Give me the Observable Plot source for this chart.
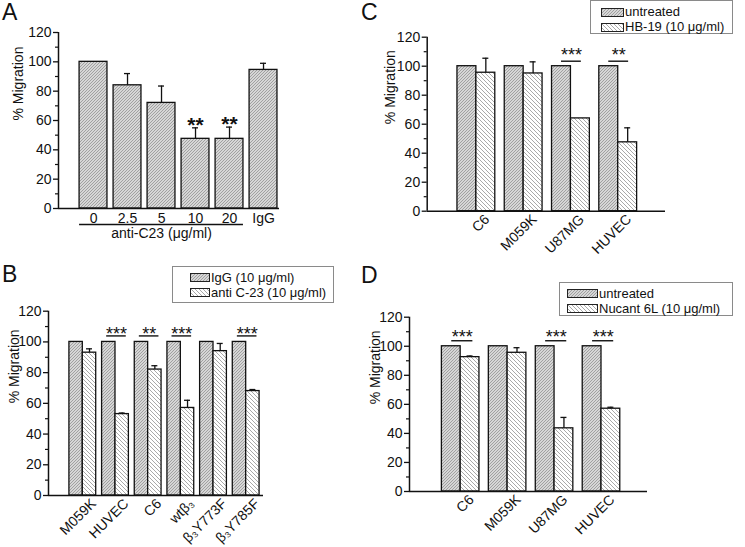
<!DOCTYPE html>
<html><head><meta charset="utf-8">
<script src="https://cdn.jsdelivr.net/npm/d3@7"></script>
<script src="https://cdn.jsdelivr.net/npm/@observablehq/plot@0.6"></script>
<style>
body{margin:0;background:#fff;font-family:"Liberation Sans",Arial,sans-serif;color:#111;}
#fig{position:relative;width:745px;height:547px;overflow:hidden;background:#fff;}
.pl{position:absolute;}
.letter{position:absolute;font-size:23px;line-height:1;}
.legend{position:absolute;border:1px solid #8a8a8a;background:#fff;font-size:13px;box-sizing:border-box;}
.legend .row{position:absolute;display:flex;align-items:center;white-space:nowrap;height:12px;line-height:12px;}
.legend svg{display:block;margin-right:1px;}
</style></head><body>
<svg width="0" height="0" style="position:absolute"><defs>
<pattern id="pGray" patternUnits="userSpaceOnUse" width="3" height="3"><rect width="3" height="3" fill="#d6d6d6"/><path d="M-1,1 L1,-1 M0,3 L3,0 M2,4 L4,2" stroke="#888" stroke-width="0.7"/></pattern>
<pattern id="pHatch" patternUnits="userSpaceOnUse" width="4" height="4"><rect width="4" height="4" fill="#fff"/><path d="M-1,-1 L5,5 M-1,3 L1,5 M3,-1 L5,1" stroke="#999" stroke-width="0.85"/></pattern>
</defs></svg>
<div id="fig"></div>
<script>
// ---------- data ----------
const catsA = ["0","2.5","5","10","20","IgG"];
const valA = [100,84,72,47.5,47.5,94.5];
const errA = [0,8,11.5,7.5,8,4.5];
const sigA = ["","","","**","**",""];
const groupLabelA = "anti-C23 (μg/ml)";

const groupsB = ["M059K","HUVEC","C6","wtβ₃","β₃Y773F","β₃Y785F"];
const iggB = [100,100,100,100,100,100];
const antiB = [93,53,82,57,94,68];
const antiErrB = [2.5,0.7,2.5,5,5,1];
const sigB = ["","***","**","***","","***"];
const legendB = ["IgG (10 μg/ml)","anti C-23 (10 μg/ml)"];

const groupsC = ["C6","M059K","U87MG","HUVEC"];
const untreatedC = [100,100,100,100];
const hbC = [95.5,95,64,47.5];
const hbErrC = [10,8,0,10];
const sigC = ["","","***","**"];
const legendC = ["untreated","HB-19 (10 μg/ml)"];

const groupsD = ["C6","M059K","U87MG","HUVEC"];
const untreatedD = [100,100,100,100];
const nucD = [92.5,95.5,43.5,57];
const nucErrD = [0.8,3.5,7.5,1];
const sigD = ["***","","***","***"];
const legendD = ["untreated","Nucant 6L (10 μg/ml)"];

const yTicks = [0,20,40,60,80,100,120];
const yMinor = [10,30,50,70,90,110];
const yLabel = "% Migration";

const FILL_A = "url(#pGray)", FILL_B = "url(#pHatch)";
const fig = document.getElementById("fig");

function makePanel(cfg) {
  const {groups, series, bw, xdom, left, top, w, h, ml, mr, mt, mb, ylabDx} = cfg;
  const nS = series.length;
  const step = (w - ml - mr) / (xdom[1] - xdom[0]);
  const cap = 3/step;
  const marks = [];
  series.forEach((s, k) => {
    const rows = groups.map((g, i) => {
      const x1 = nS === 1 ? i - bw/2 : i - bw + k*bw;
      return {x1, x2: x1 + bw, v: s.values[i], err: s.err ? s.err[i] : 0, xm: x1 + bw/2};
    });
    marks.push(Plot.rect(rows, {x1: "x1", x2: "x2", y1: () => 0, y2: "v", fill: s.fill, stroke: "#111", strokeWidth: 1.3}));
    const eb = rows.filter(r => r.err > 0).map(r => ({...r, t: r.v + r.err}));
    marks.push(Plot.ruleX(eb, {x: "xm", y1: "v", y2: "t", stroke: "#111", strokeWidth: 1.3}));
    marks.push(Plot.ruleY(eb, {x1: r => r.xm - cap, x2: r => r.xm + cap, y: "t", stroke: "#111", strokeWidth: 1.3}));
    if (cfg.starsOnErr) {
      const st = rows.map((r, i) => ({...r, t: r.v + r.err, s: cfg.sig[i]})).filter(r => r.s);
      marks.push(Plot.text(st, {x: "xm", y: "t", text: "s", dy: -3, fontSize: 21, fontWeight: "bold"}));
    }
  });
  if (!cfg.starsOnErr) {
    const sr = groups.map((g, i) => ({x1: i - cfg.sigL, x2: i + cfg.sigR, s: cfg.sig[i]})).filter(r => r.s);
    marks.push(Plot.ruleY(sr, {x1: "x1", x2: "x2", y: () => 100, dy: cfg.lineDy, stroke: "#111", strokeWidth: 1.4}));
    marks.push(Plot.text(sr, {x: r => (r.x1 + r.x2)/2, y: () => 100, text: "s", dy: cfg.starDy, fontSize: 18}));
  }
  // axes
  marks.push(Plot.ruleY([0], {stroke: "#111", strokeWidth: 1.5}));
  marks.push(Plot.ruleX([xdom[0]], {stroke: "#111", strokeWidth: 1.5}));
  marks.push(Plot.axisY({ticks: yTicks, tickSize: 5, tickPadding: 2, label: null, fontSize: 14, strokeWidth: 1.3}));
  marks.push(Plot.axisY({ticks: yMinor, tickSize: 3, tickFormat: () => "", label: null, strokeWidth: 1.2}));
  marks.push(Plot.text([yLabel], {frameAnchor: "left", rotate: -90, dx: ylabDx, fontSize: 14}));
  if (cfg.rotated) {
    marks.push(Plot.text(groups, {x: (d, i) => i, frameAnchor: "bottom", rotate: -45, textAnchor: "end", dx: 14, dy: 9, fontSize: 14}));
  } else {
    marks.push(Plot.text(groups, {x: (d, i) => i, frameAnchor: "bottom", lineAnchor: "top", dy: 5, fontSize: 14}));
  }
  if (cfg.extra) marks.push(...cfg.extra(bw));
  const svg = Plot.plot({
    width: w, height: h, marginLeft: ml, marginRight: mr, marginTop: mt, marginBottom: mb,
    x: {type: "linear", domain: xdom, axis: null},
    y: {domain: [0, 120]},
    style: {fontFamily: "Liberation Sans, Arial, sans-serif", fontSize: "14px", color: "#111", background: "transparent", overflow: "visible"},
    marks
  });
  svg.classList.add("pl");
  svg.style.left = left + "px";
  svg.style.top = top + "px";
  fig.appendChild(svg);
}

function letter(t, x, y) {
  const d = document.createElement("div");
  d.className = "letter"; d.textContent = t;
  d.style.left = x + "px"; d.style.top = y + "px";
  fig.appendChild(d);
}
function legend(labels, box, swX, swW, rowsY) {
  const d = document.createElement("div");
  d.className = "legend";
  Object.assign(d.style, {left: box[0] + "px", top: box[1] + "px", width: box[2] + "px", height: box[3] + "px"});
  const fills = ["pGray", "pHatch"];
  labels.forEach((lab, k) => {
    const r = document.createElement("div");
    r.className = "row";
    r.style.left = swX + "px"; r.style.top = (rowsY[k] - 6) + "px";
    r.innerHTML = `<svg width="${swW}" height="9"><rect x="0.5" y="0.5" width="${swW - 1}" height="8" fill="url(#${fills[k]})" stroke="#222" stroke-width="1"/></svg><span>${lab}</span>`;
    d.appendChild(r);
  });
  fig.appendChild(d);
}

// Panel A
makePanel({
  groups: catsA, series: [{values: valA, err: errA, fill: FILL_A}], sig: sigA, starsOnErr: true,
  bw: 0.82, xdom: [-1.03, 5.47], left: 0, top: 0, w: 300, h: 250, ml: 58, mr: 21, mt: 32, mb: 42, ylabDx: -40,
  extra: (bw) => {
    const i0 = catsA.indexOf("0"), i1 = catsA.indexOf("20");
    return [
      Plot.ruleY([0], {x1: () => i0 - bw/2, x2: () => i1 + bw/2, dy: 16, stroke: "#111", strokeWidth: 1.5}),
      Plot.text([groupLabelA], {x: () => (i0 + i1)/2, y: () => 0, dy: 25, fontSize: 14})
    ];
  }
});
// Panel B
makePanel({
  groups: groupsB, series: [{values: iggB, fill: FILL_A}, {values: antiB, err: antiErrB, fill: FILL_B}], sig: sigB,
  sigL: 0.27, sigR: 0.33, lineDy: -6, starDy: -8, rotated: true,
  bw: 0.41, xdom: [-1.05, 5.53], left: 0, top: 260, w: 350, h: 287, ml: 48, mr: 87, mt: 50.7, mb: 52, ylabDx: -34
});
// Panel C
makePanel({
  groups: groupsC, series: [{values: untreatedC, fill: FILL_A}, {values: hbC, err: hbErrC, fill: FILL_B}], sig: sigC,
  sigL: 0.2, sigR: 0.22, lineDy: -5, starDy: -11, rotated: true,
  bw: 0.40, xdom: [-1.04, 4.0], left: 360, top: 0, w: 385, h: 260, ml: 66.7, mr: 80, mt: 36.7, mb: 49.3, ylabDx: -37
});
// Panel D
makePanel({
  groups: groupsD, series: [{values: untreatedD, fill: FILL_A}, {values: nucD, err: nucErrD, fill: FILL_B}], sig: sigD,
  sigL: 0.19, sigR: 0.26, lineDy: -5.5, starDy: -9, rotated: true,
  bw: 0.40, xdom: [-1.09, 3.98], left: 360, top: 270, w: 385, h: 277, ml: 49, mr: 98, mt: 46.7, mb: 56, ylabDx: -34
});

letter("A", 2, 1); letter("B", 2, 263); letter("C", 361, 1); letter("D", 361, 264);
legend(legendB, [172, 266, 162, 37], 17, 20, [10.5, 25.5]);
legend(legendC, [590, 0, 143, 34], 10, 23, [11, 26]);
legend(legendD, [559, 282, 174, 34], 7, 31, [10.5, 25.5]);
</script>
</body></html>
